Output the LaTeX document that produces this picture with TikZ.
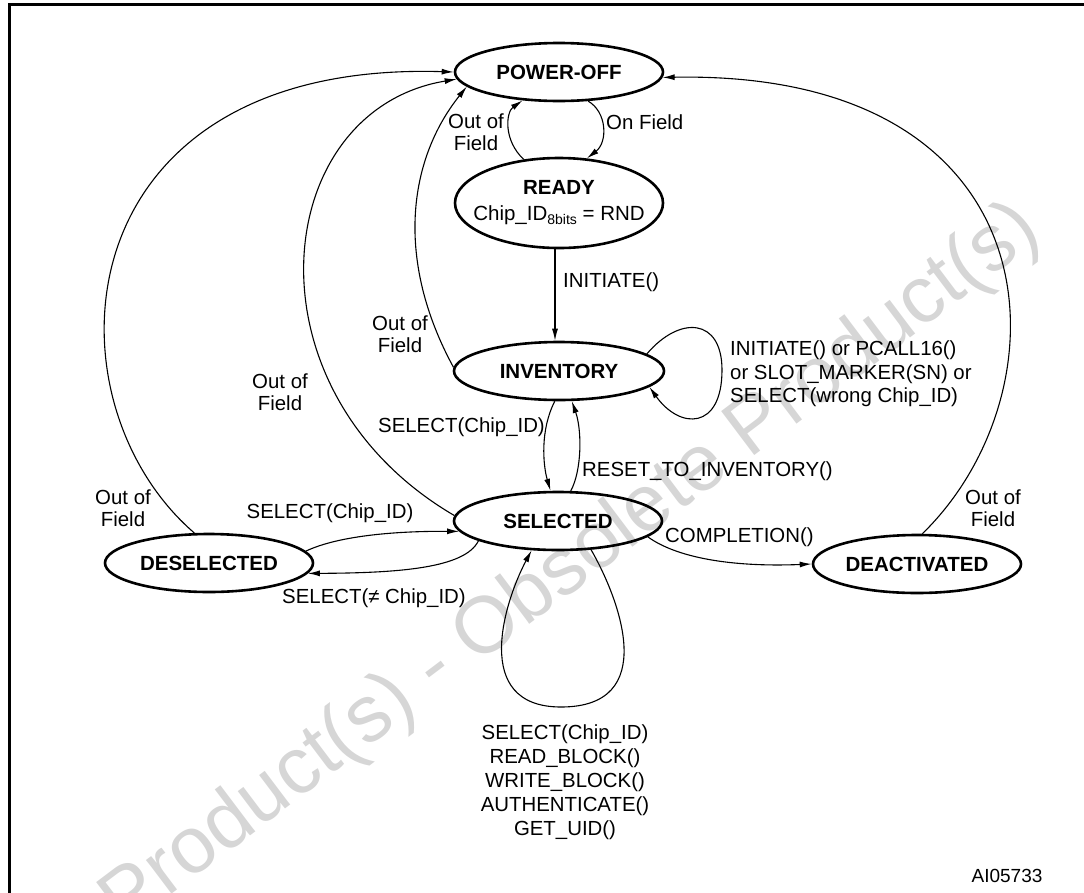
\documentclass[tikz,border=0pt]{standalone}
\usepackage{fontspec}
\setmainfont{Liberation Sans}
\usetikzlibrary{shapes.geometric,arrows.meta}
\begin{document}
\begin{tikzpicture}[x=1pt,y=-1pt,
  state/.style={draw,ellipse,line width=2.6pt,inner sep=0pt,minimum width=208pt,minimum height=58pt,font=\fontsize{20.5}{24}\selectfont\bfseries},
  lbl/.style={inner sep=0pt,font=\fontsize{20.4}{22}\selectfont},
  tr/.style={line width=1.1pt,-{Latex[length=12pt,width=6pt]}},
  wmark/.style={inner sep=0pt,text=black!16,font=\fontsize{80}{80}\selectfont}]
\useasboundingbox (0,0) rectangle (1084,892);
\clip (0,0) rectangle (1084,892);
% watermark
\node[wmark,rotate=37] (wm) at (572,567) {Product(s) - Obsolete Product(s)};
% frame
\draw[line width=2.7pt] (9.7,905) -- (9.7,4.5) -- (1095,4.5);
% states
\node[state] (poweroff) at (559,72) {POWER-OFF};
\node[state,minimum height=90pt,inner xsep=-16pt,align=center] (ready) at (559,203) {READY\\[2pt]{\mdseries Chip\_ID\raisebox{-0.35ex}{\fontsize{14}{14}\selectfont 8bits} = RND}};
\node[state,minimum width=210pt] (inventory) at (559,371) {INVENTORY};
\node[state] (selected) at (558,521) {SELECTED};
\node[state] (deselected) at (209,563) {DESELECTED};
\node[state] (deactivated) at (917,564) {DEACTIVATED};
% waypoints
\coordinate (invloop) at (722,370);
\coordinate (selloop) at (561,707);
% transitions
\draw[tr] (ready.129) .. controls (503,140) and (506,112) .. (poweroff.218);
\draw[tr] (poweroff.315) .. controls (607,112) and (608,142) .. (ready.58);
\draw[tr] ([xshift=-4pt]ready.south) -- ([xshift=-4pt]inventory.north);
\draw[tr] (inventory.178) .. controls (395,260) and (408,160) .. (poweroff.189);
\draw[tr] (selected.177) .. controls (240,390) and (270,110) .. (poweroff.184);
\draw[tr] (deselected.116) .. controls (40,400) and (60,60) .. (poweroff.180);
\draw[tr] (deactivated.80) .. controls (1070,390) and (1060,70) .. (poweroff.357);
\draw[tr] (inventory.262) .. controls (540,430) and (543,465) .. (selected.104);
\draw[tr] (selected.67) .. controls (582,470) and (582,430) .. (inventory.293);
\draw[tr] (deselected.7) .. controls (340,535) and (400,531) .. (selected.186);
\draw[tr] (selected.194) .. controls (465,568) and (400,573) .. (deselected.354);
\draw[tr] (selected.350) .. controls (680,560) and (740,567) .. (deactivated.180);
\draw[tr] (inventory.11) .. controls (680,315) and (722,318) .. (invloop) .. controls (722,430) and (680,430) .. (inventory.350);
\draw[tr] (selected.319) .. controls (620,600) and (660,707) .. (selloop) .. controls (470,707) and (505,600) .. (selected.228);
% labels
\node[lbl,align=center] (l1) at (476,132) {Out of\\Field};
\node[lbl,anchor=west] (l2) at (606,122) {On Field};
\node[lbl,anchor=west] (l3) at (563,282) {INITIATE()};
\node[lbl,align=center] (l4) at (400,334) {Out of\\Field};
\node[lbl,align=center] (l5) at (280,392) {Out of\\Field};
\node[lbl,align=center] (l6) at (123,508) {Out of\\Field};
\node[lbl,align=center] (l7) at (993,508) {Out of\\Field};
\node[lbl,anchor=west,align=left,font=\fontsize{20.4}{23.5}\selectfont] (l8) at (730,374) {INITIATE() or PCALL16()\\or SLOT\_MARKER(SN) or\\SELECT(wrong Chip\_ID)};
\node[lbl,anchor=east] (l9) at (545,427) {SELECT(Chip\_ID)};
\node[lbl,anchor=west] (l10) at (582,471) {RESET\_TO\_INVENTORY()};
\node[lbl] (l11) at (330,513) {SELECT(Chip\_ID)};
\node[lbl] (l12) at (374,598) {SELECT(≠ Chip\_ID)};
\node[lbl,anchor=west] (l13) at (665,537) {COMPLETION()};
\node[lbl,align=center,font=\fontsize{20.4}{24}\selectfont] (l14) at (565,782) {SELECT(Chip\_ID)\\READ\_BLOCK()\\WRITE\_BLOCK()\\AUTHENTICATE()\\GET\_UID()};
\node[lbl,font=\fontsize{19}{19}\selectfont] (code) at (1007,876) {AI05733};
\end{tikzpicture}
\end{document}
